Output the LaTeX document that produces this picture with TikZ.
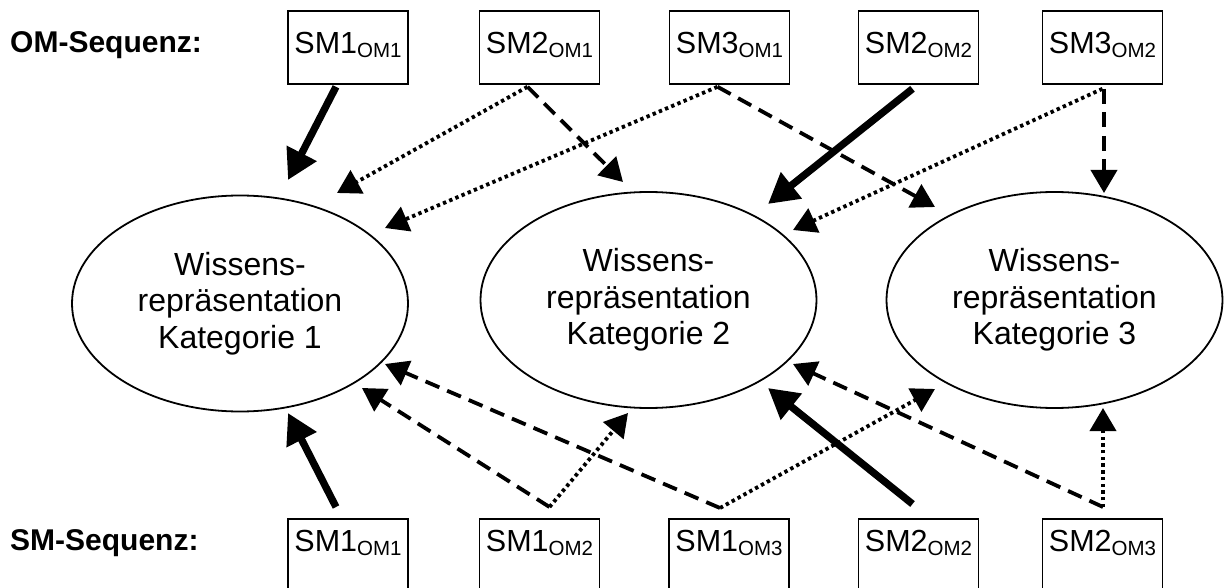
\documentclass[tikz,border=0pt]{standalone}
\usepackage{fontspec}
\setmainfont{Liberation Sans}
\usetikzlibrary{arrows.meta,shapes.geometric,calc}

% lowered, smaller index after the SM number
\newcommand\omsub[1]{\raisebox{-4pt}{\fontsize{20.5}{20}\selectfont #1}}

\begin{document}
\begin{tikzpicture}[x=1pt,y=-1pt,
  smbox/.style={draw, line width=1.8pt, minimum width=120pt, inner xsep=0pt, inner ysep=0pt,
    font=\fontsize{30.5}{30}\selectfont},
  topbox/.style={smbox, anchor=north, text height=43pt, text depth=30pt},
  botbox/.style={smbox, anchor=north, text height=33pt, text depth=52pt},
  wissen/.style={draw, ellipse, line width=1.8pt, minimum width=336pt, minimum height=216pt,
    inner sep=0pt, align=center, font=\fontsize{32}{36.5}\selectfont},
  seqlabel/.style={anchor=base west, inner sep=0pt, font=\fontsize{30}{30}\selectfont\bfseries},
  strong/.style={line width=7.3pt, -{Triangle[length=30pt,width=32pt]}},
  weakdash/.style={line width=3.8pt, dash pattern=on 15pt off 8.5pt, -{Triangle[length=23pt,width=26pt]}},
  weakdot/.style={line width=3.8pt, dash pattern=on 3.4pt off 3.3pt, -{Triangle[length=23pt,width=26pt]}},
]
\fill[white] (0,0) rectangle (1224,588);
\useasboundingbox (0,0) rectangle (1224,588);

% row labels
\node[seqlabel] (omlab) at (10,53) {OM-Sequenz:};
\node[seqlabel] (smlab) at (10,550) {SM-Sequenz:};

% OM sequence (top row)
\node[topbox] (o1) at (348,10)    {SM1\omsub{OM1}};
\node[topbox] (o2) at (539.5,10)  {SM2\omsub{OM1}};
\node[topbox] (o3) at (729.5,10)  {SM3\omsub{OM1}};
\node[topbox] (o4) at (918.5,10)  {SM2\omsub{OM2}};
\node[topbox] (o5) at (1102.5,10) {SM3\omsub{OM2}};

% SM sequence (bottom row)
\node[botbox] (s1) at (348,518)    {SM1\omsub{OM1}};
\node[botbox] (s2) at (539.5,518)  {SM1\omsub{OM2}};
\node[botbox] (s3) at (729,518)    {SM1\omsub{OM3}};
\node[botbox] (s4) at (918.5,518)  {SM2\omsub{OM2}};
\node[botbox] (s5) at (1102.5,518) {SM2\omsub{OM3}};

% knowledge representations
\node[wissen] (k1) at (240,303.5)  {Wissens-\\repräsentation\\Kategorie 1};
\node[wissen] (k2) at (648.5,300)  {Wissens-\\repräsentation\\Kategorie 2};
\node[wissen] (k3) at (1054.5,300) {Wissens-\\repräsentation\\Kategorie 3};

% arrow ends near the ellipses
\coordinate (a1) at (288,180);
\coordinate (a2) at (337,193);
\coordinate (a3) at (623,182);
\coordinate (a4) at (385,228);
\coordinate (a5) at (935,207);
\coordinate (a6) at (768,204);
\coordinate (a7) at (793,230);
\coordinate (a8) at (1104,193);
\coordinate (b1) at (288,413);
\coordinate (b2) at (362,388);
\coordinate (b3) at (628,413);
\coordinate (b4) at (385,364);
\coordinate (b5) at (935,389);
\coordinate (b6) at (768,388);
\coordinate (b7) at (793,364);
\coordinate (b8) at (1103,408);

% OM sequence connectors
\draw[strong]   ($(o1.south)+(-12,2)$) -- (a1);
\draw[weakdot]  ($(o2.south)+(-12,2)$) -- (a2);
\draw[weakdash] ($(o2.south)+(-12,2)$) -- (a3);
\draw[weakdot]  ($(o3.south)+(-12,2)$) -- (a4);
\draw[weakdash] ($(o3.south)+(-12,2)$) -- (a5);
\draw[strong]   ($(o4.south)+(-6,4)$)  -- (a6);
\draw[weakdot]  ($(o5.south)+(0,4)$)   -- (a7);
\draw[weakdash] ($(o5.south)+(1.5,4)$) -- (a8);

% SM sequence connectors
\draw[strong]   ($(s1.north)+(-12,-11)$) -- (b1);
\draw[weakdash] ($(s2.north)+(10,-11)$)  -- (b2);
\draw[weakdot]  ($(s2.north)+(10,-11)$)  -- (b3);
\draw[weakdash] ($(s3.north)+(-9,-10)$)  -- (b4);
\draw[weakdot]  ($(s3.north)+(-9,-10)$)  -- (b5);
\draw[strong]   ($(s4.north)+(-6,-14)$)  -- (b6);
\draw[weakdash] ($(s5.north)+(0.5,-11)$) -- (b7);
\draw[weakdot]  ($(s5.north)+(0.5,-11)$) -- (b8);
\end{tikzpicture}
\end{document}
